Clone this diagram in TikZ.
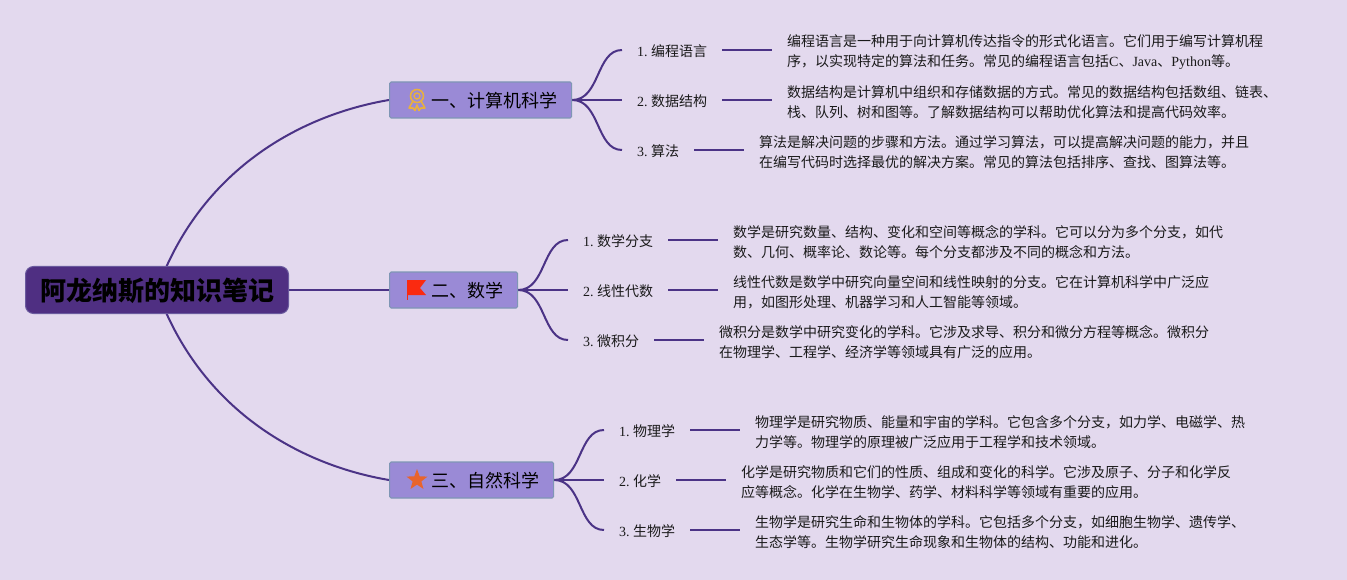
\documentclass[tikz,border=0pt]{standalone}
\usepackage{fontspec}
\setmainfont{Noto Sans CJK SC}
\newfontfamily\latinf{Liberation Serif}
\newcommand{\la}[1]{{\latinf #1}}
\newcommand{\num}[1]{\la{#1.}\hspace{3.5pt}}
\usetikzlibrary{shapes.geometric,backgrounds}
\definecolor{bgc}{HTML}{E3D9EE}
\definecolor{linec}{HTML}{4B3386}
\definecolor{rootc}{HTML}{4F2F82}
\definecolor{rootb}{HTML}{6A5A9E}
\definecolor{mainc}{HTML}{9A8AD6}
\definecolor{mainb}{HTML}{7F96B5}
\definecolor{textc}{HTML}{1A1A1A}
\definecolor{goldc}{HTML}{E8B040}
\definecolor{flagc}{HTML}{FA2A10}
\definecolor{starc}{HTML}{E8642C}
\tikzset{
  x=1pt,y=-1pt,
  rootbox/.style={draw=rootb,fill=rootc,line width=1pt,rounded corners=8pt,minimum width=263pt,minimum height=47pt,inner sep=0pt,text height=26pt,text depth=4.2pt,text=black,font=\fontsize{26}{30}\selectfont\bfseries},
  mainbox/.style={draw=mainb,fill=mainc,line width=1.2pt,rounded corners=1.5pt,minimum height=36pt,inner sep=0pt,anchor=west,text height=18pt,text depth=2.3pt,text=black,font=\fontsize{18}{22}\selectfont},
  leafnode/.style={anchor=west,inner xsep=15pt,inner ysep=2pt,text height=14pt,text depth=1.4pt,text=textc,font=\fontsize{14}{20}\selectfont},
  descnode/.style={anchor=west,inner xsep=15pt,inner ysep=0pt,align=left,text=textc,font=\fontsize{14}{20}\selectfont},
  conn/.style={draw=linec,line width=2pt},
  branch/.style={draw=linec,line width=2pt}
}
\newcommand{\mainlabel}[1]{\hspace*{42pt}#1\hspace*{14pt}}
\begin{document}
\begin{tikzpicture}
\useasboundingbox (0,0) rectangle (1347,580);
% nodes
\node[rootbox] (root) at (157,290) {阿龙纳斯的知识笔记};
\node[mainbox] (m1) at (389,100) {\mainlabel{一、计算机科学}};
\node[mainbox] (m2) at (389,290) {\mainlabel{二、数学}};
\node[mainbox] (m3) at (389,480) {\mainlabel{三、自然科学}};
% group 1
\node[leafnode] (a1) at (622,50) {\num{1}编程语言};
\node[leafnode] (a2) at (622,100) {\num{2}数据结构};
\node[leafnode] (a3) at (622,150) {\num{3}算法};
\node[descnode] (da1) at (772,52) {编程语言是一种用于向计算机传达指令的形式化语言。它们用于编写计算机程\\序，以实现特定的算法和任务。常见的编程语言包括\la{C}、\la{Java}、\la{Python}等。};
\node[descnode] (da2) at (772,102) {数据结构是计算机中组织和存储数据的方式。常见的数据结构包括数组、链表、\\栈、队列、树和图等。了解数据结构可以帮助优化算法和提高代码效率。};
\node[descnode] (da3) at (744,152) {算法是解决问题的步骤和方法。通过学习算法，可以提高解决问题的能力，并且\\在编写代码时选择最优的解决方案。常见的算法包括排序、查找、图算法等。};
% group 2
\node[leafnode] (b1) at (568,240) {\num{1}数学分支};
\node[leafnode] (b2) at (568,290) {\num{2}线性代数};
\node[leafnode] (b3) at (568,340) {\num{3}微积分};
\node[descnode] (db1) at (718,242) {数学是研究数量、结构、变化和空间等概念的学科。它可以分为多个分支，如代\\数、几何、概率论、数论等。每个分支都涉及不同的概念和方法。};
\node[descnode] (db2) at (718,292) {线性代数是数学中研究向量空间和线性映射的分支。它在计算机科学中广泛应\\用，如图形处理、机器学习和人工智能等领域。};
\node[descnode] (db3) at (704,342) {微积分是数学中研究变化的学科。它涉及求导、积分和微分方程等概念。微积分\\在物理学、工程学、经济学等领域具有广泛的应用。};
% group 3
\node[leafnode] (c1) at (604,430) {\num{1}物理学};
\node[leafnode] (c2) at (604,480) {\num{2}化学};
\node[leafnode] (c3) at (604,530) {\num{3}生物学};
\node[descnode] (dc1) at (740,432) {物理学是研究物质、能量和宇宙的学科。它包含多个分支，如力学、电磁学、热\\力学等。物理学的原理被广泛应用于工程学和技术领域。};
\node[descnode] (dc2) at (726,482) {化学是研究物质和它们的性质、组成和变化的科学。它涉及原子、分子和化学反\\应等概念。化学在生物学、药学、材料科学等领域有重要的应用。};
\node[descnode] (dc3) at (740,532) {生物学是研究生命和生物体的学科。它包括多个分支，如细胞生物学、遗传学、\\生态学等。生物学研究生命现象和生物体的结构、功能和进化。};
% connectors
\begin{pgfonlayer}{background}
\fill[bgc] (0,0) rectangle (1347,580);
\draw[conn] (root.center) .. controls (200,170) and (300,115) .. (m1.west);
\draw[conn] (root.east) -- (m2.west);
\draw[conn] (root.center) .. controls (200,410) and (300,465) .. (m3.west);
\foreach \m/\l in {m1/a,m2/b,m3/c}{
  \draw[branch] (\m.east) .. controls +(28,0) and ([xshift=-26pt]\l1.west) .. (\l1.west);
  \draw[branch] (\m.east) -- (\l2.west);
  \draw[branch] (\m.east) .. controls +(28,0) and ([xshift=-26pt]\l3.west) .. (\l3.west);
  \foreach \i in {1,2,3}{\draw[branch] (\l\i.east) -- (\l\i.east -| d\l\i.west);}
}
\end{pgfonlayer}
% icons
\begin{scope}[shift={(m1.west)},xshift=28pt]
  \draw[goldc,line width=1.6pt] (0,-4) circle[radius=6.5pt];
  \draw[goldc,line width=1.4pt] (0,-4) circle[radius=3pt];
  \draw[goldc,line width=1.6pt,line join=round] (-4,1) -- (-8,8) -- (-4,8) -- (-2,10.5) -- (0,5) -- (2,10.5) -- (4,8) -- (8,8) -- (4,1);
\end{scope}
\begin{scope}[shift={(m2.west)},xshift=28pt]
  \fill[flagc] (-10,-10) -- (9,-10) -- (3,-2) -- (9,5) -- (-10,5) -- cycle;
  \draw[flagc,line width=1pt] (-9.5,-10) -- (-9.5,10);
\end{scope}
\node[star,star points=5,star point ratio=2.4,fill=starc,minimum size=22pt,inner sep=0pt] (s3) at ([xshift=28pt]m3.west) {};
\end{tikzpicture}
\end{document}
